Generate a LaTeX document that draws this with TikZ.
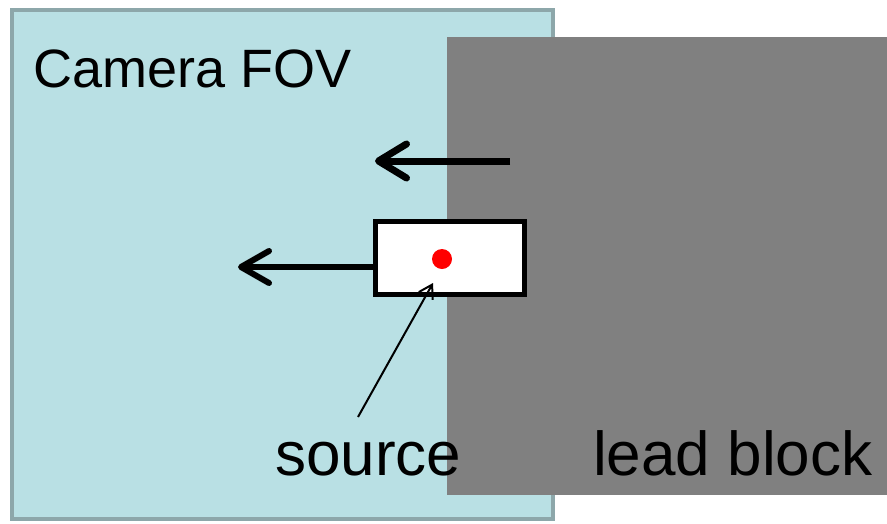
\documentclass[tikz,border=0pt]{standalone}
\usepackage{fontspec}
\setmainfont{Liberation Sans}
\usetikzlibrary{arrows.meta}
\definecolor{fovfill}{RGB}{185,224,228}
\definecolor{fovedge}{RGB}{141,167,170}
\definecolor{leadgray}{RGB}{128,128,128}
\begin{document}
\begin{tikzpicture}[x=1pt,y=-1pt,
  region/.style={draw=none,inner sep=0pt,outer sep=0pt,anchor=north west},
  bigarrow/.style={line width=7pt,-{Straight Barb[length=28pt,width=34pt,round]}},
  thinarrow/.style={line width=2pt,-{Straight Barb[length=13pt,width=16pt]}},
  label/.style={inner sep=0pt,anchor=base west,font=\fontsize{#1}{#1}\selectfont},
  label/.default=62]
\useasboundingbox (0,0) rectangle (887,523);
% camera field of view
\node[region,fill=fovfill,draw=fovedge,line width=4pt,minimum width=541pt,minimum height=509pt] (fov) at (12,10) {};
% lead block
\node[region,fill=leadgray,minimum width=440pt,minimum height=458pt] (lead) at (447,37) {};
\node[label=54] (fovlabel) at (33,87) {Camera FOV};
\node[label] (leadlabel) at (593,475) {lead block};
\node[label] (srclabel) at (275,475) {source};
% source box
\node[draw=black,fill=white,line width=5pt,minimum width=149pt,minimum height=73pt,inner sep=0pt] (src) at (450,258) {};
\node[circle,fill=red,minimum size=20pt,inner sep=0pt] (dot) at (442,259) {};
% arrows
\coordinate (t1) at (510,161);
\coordinate (t2) at (375,161);
\draw[bigarrow] (t1) -- (t2);
\coordinate (l2) at (238,267);
\draw[line width=6pt,-{Straight Barb[length=28pt,width=32pt,round]}] (src.west |- l2) -- (l2);
\coordinate (p1) at (358,417);
\coordinate (p2) at (433,283);
\draw[thinarrow] (p1) -- (p2);
\end{tikzpicture}
\end{document}
